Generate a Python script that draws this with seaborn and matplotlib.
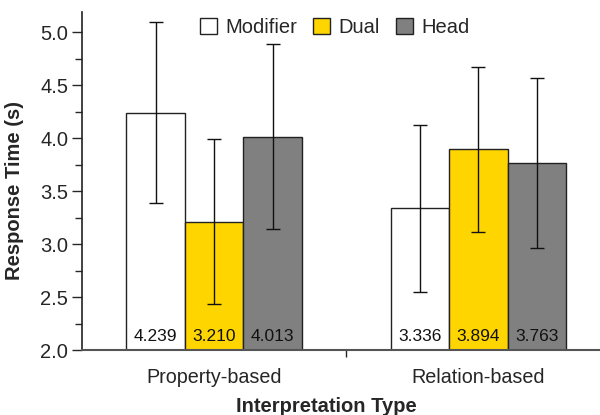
import pandas as pd
import numpy as np
import matplotlib
matplotlib.use("Agg")
import matplotlib.pyplot as plt
import seaborn as sns
from matplotlib.ticker import MultipleLocator

# data
groups = ["Property-based", "Relation-based"]
conditions = ["Modifier", "Dual", "Head"]
modifier_rt = [4.239, 3.336]
dual_rt = [3.210, 3.894]
head_rt = [4.013, 3.763]
modifier_err = [0.855, 0.787]
dual_err = [0.780, 0.780]
head_err = [0.874, 0.800]

df = pd.DataFrame({
    "group": groups * 3,
    "cond": ["Modifier"] * 2 + ["Dual"] * 2 + ["Head"] * 2,
    "rt": modifier_rt + dual_rt + head_rt,
    "err": modifier_err + dual_err + head_err,
})

sns.set_style("ticks")
plt.rcParams['font.family'] = ['Liberation Sans', 'DejaVu Sans']

fig = plt.figure(figsize=(6, 4.15), dpi=100)
ax = fig.add_axes([0.1367, 0.1566, 0.8633, 0.8145])

pal = {"Modifier": "#FFFFFF", "Dual": "#FFD500", "Head": "#808080"}
sns.barplot(data=df, x="group", y="rt", hue="cond", hue_order=conditions,
            order=groups, palette=pal, width=0.665, errorbar=None, saturation=1,
            edgecolor="#222222", linewidth=1.0, ax=ax, legend=False)

# error bars + value labels from the bar containers
for cont, cond in zip(ax.containers, conditions):
    sub = df[df["cond"] == cond].set_index("group").loc[groups]
    xs = [b.get_x() + b.get_width() / 2 for b in cont]
    ax.errorbar(xs, sub["rt"], yerr=sub["err"], fmt="none", ecolor="#111111",
                elinewidth=1.0, capsize=5, capthick=1.0, zorder=5)
    for x, v in zip(xs, sub["rt"]):
        ax.annotate(f"{v:.3f}", (x, 2.0), xytext=(0, 4.5), textcoords="offset points",
                    ha="center", va="bottom", fontsize=12.5, color="#111111")

ax.set_ylim(2.0, 5.19)
ax.set_xlim(-0.5, 1.46)
ax.yaxis.set_major_locator(MultipleLocator(0.5))
ax.yaxis.set_minor_locator(MultipleLocator(0.25))
ax.set_yticklabels([f"{t:.1f}" for t in ax.get_yticks()])
ax.tick_params(axis="y", which="major", length=7, width=1, labelsize=14.5, direction="out", pad=3)
ax.tick_params(axis="y", which="minor", length=5, width=1, direction="out")
ax.set_xticks([0, 1])
ax.set_xticklabels(groups, fontsize=14.2)
ax.tick_params(axis="x", which="major", length=0, pad=13)
ax.set_xticks([0.5], minor=True)
ax.tick_params(axis="x", which="minor", length=5, width=1, direction="out")

for s in ["top", "right"]:
    ax.spines[s].set_visible(False)
ax.spines["left"].set_color("#222222")
ax.spines["bottom"].set_color("#555555")
ax.spines["left"].set_linewidth(1.2)
ax.spines["bottom"].set_linewidth(1.5)

ax.set_ylabel("Response Time (s)", fontsize=14.5, fontweight="bold")
ax.yaxis.set_label_coords(-0.112, 0.473)
ax.set_xlabel("Interpretation Type", fontsize=14.5, fontweight="bold")
ax.xaxis.set_label_coords(0.471, -0.138)

handles = [plt.Rectangle((0, 0), 1, 1, facecolor=pal[c], edgecolor="#222222", linewidth=1.0)
           for c in conditions]
ax.legend(handles, conditions, ncol=3, frameon=False, loc="center",
          bbox_to_anchor=(0.488, 0.953), fontsize=14.5, handlelength=0.85,
          handleheight=0.85, handletextpad=0.4, columnspacing=0.8)

fig.savefig("out.png", dpi=100)
